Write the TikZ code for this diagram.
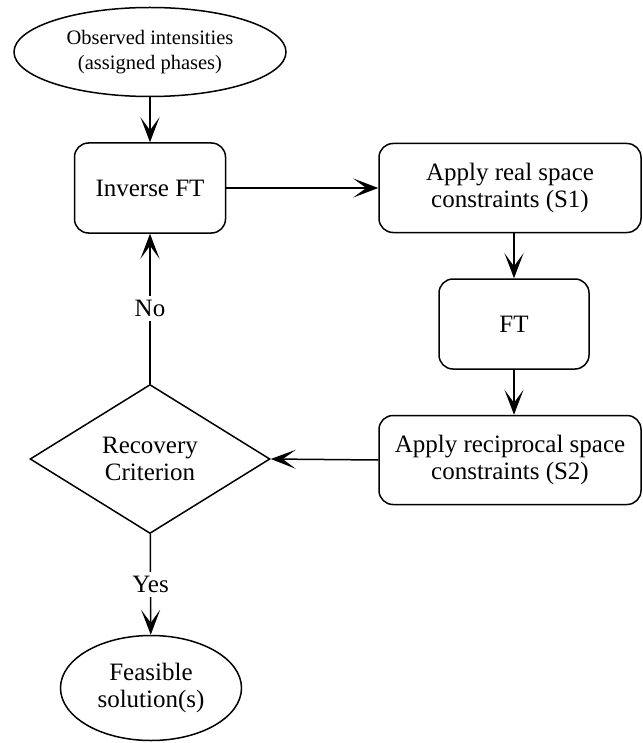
\documentclass[tikz,border=0pt]{standalone}
\usepackage{fontspec}
\setmainfont{Liberation Serif}
\usetikzlibrary{shapes.geometric, arrows.meta}

\begin{document}
\begin{tikzpicture}[x=1pt, y=-1pt, line width=1.5pt,
    proc/.style={draw, rounded corners=14pt, align=center, font=\fontsize{25}{27}\selectfont},
    term/.style={draw, ellipse, inner sep=0pt, align=center},
    test/.style={draw, diamond, inner sep=0pt, align=center, font=\fontsize{25}{27}\selectfont},
    flow/.style={-{Stealth[length=25pt, width=19pt, inset=13pt]}},
    lbl/.style={fill=white, inner sep=4pt, font=\fontsize{25}{27}\selectfont}]
      \useasboundingbox (0,0) rectangle (642,743);

      % start and end
      \node[term, minimum width=272pt, minimum height=89pt, font=\fontsize{20.5}{25}\selectfont] (obs) at (150,52) {Observed intensities\\(assigned phases)};
      \node[term, minimum width=181pt, minimum height=105pt, font=\fontsize{25}{27}\selectfont] (sol) at (151,688) {Feasible\\solution(s)};

      % the loop
      \node[proc, minimum width=151pt, minimum height=90pt] (ift) at (150,188) {Inverse FT};
      \node[proc, minimum width=262pt, minimum height=89pt] (real) at (510,188) {Apply real space\\constraints (S1)};
      \node[proc, minimum width=150pt, minimum height=90pt] (ft) at (514,324) {FT};
      \node[proc, minimum width=262pt, minimum height=89pt] (recip) at (510,460) {Apply reciprocal space\\constraints (S2)};
      \node[test, minimum width=240pt, minimum height=149pt] (crit) at (150,459) {Recovery\\Criterion};

      \draw[flow] (obs) -- (ift);
      \draw[flow] (ift) -- (real);
      \draw[flow] (real.south -| ft.north) -- (ft);
      \draw[flow] (ft) -- (recip.north -| ft.south);
      \draw[flow] (recip.west) -- (crit.east);
      \draw[flow] (crit) -- node[lbl] {No} (ift);
      \draw[flow] (crit) -- node[lbl] {Yes} (sol);
    \end{tikzpicture}
\end{document}
